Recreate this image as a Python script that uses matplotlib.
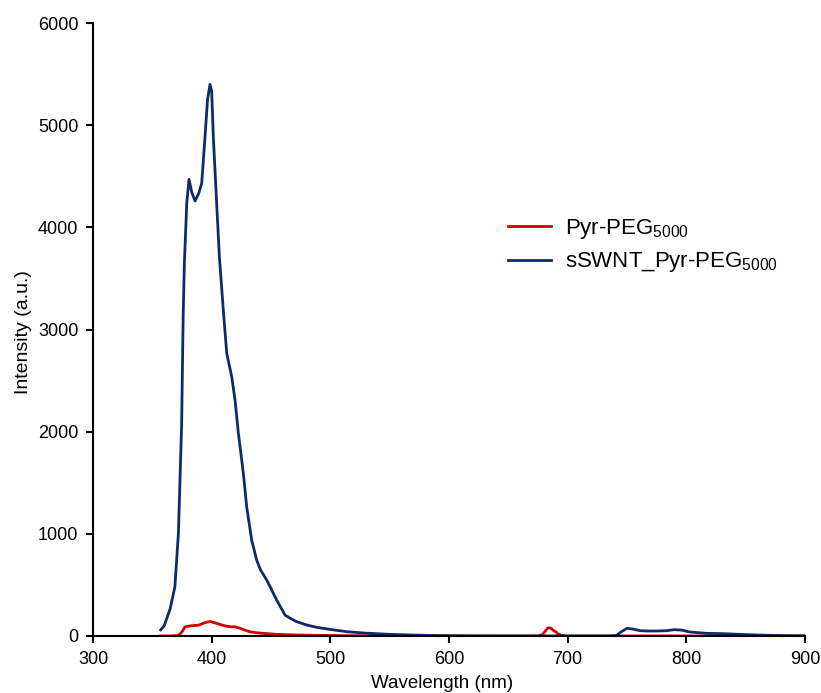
import numpy as np
import matplotlib
matplotlib.use("Agg")
import matplotlib.pyplot as plt

#========= Data ====================================
wl_blue = [357, 360, 365, 369, 372, 374.7, 376, 377, 379, 380.9, 383.2, 386,
           389, 391.6, 394.4, 396.5, 398.6, 400, 401.4, 404.2, 406.5, 409.8,
           412.7, 416.9, 419.7, 422.5, 424.5, 426.7, 429.5, 433.7, 437.9, 441,
           446.4, 454.8, 461.8, 466, 471.6, 480, 488.5, 500, 513.8, 530, 550,
           570, 592, 620, 650, 700, 735, 741, 745, 750, 755, 761, 768, 775,
           783, 790, 796, 803, 817, 831, 845, 859, 880, 900]
int_blue = [60, 100, 266, 480, 1010, 2074, 3138, 3648, 4235, 4470, 4344, 4258,
            4330, 4431, 4887, 5250, 5400, 5330, 4887, 4235, 3712, 3191,
            2767, 2538, 2310, 1984, 1800, 1592, 1266, 940, 744, 650,
            548, 352, 205, 175, 140, 108, 85, 64, 42, 28, 16,
            9, 4, 1, 0, 0, 0, 5, 40, 75, 68, 52, 49, 49,
            52, 62, 58, 39, 26, 23, 16, 10, 4, 2]

wl_red = [357, 365, 372, 375, 377.5, 382, 389, 394.4, 398.6, 404.2, 411.2,
          415.4, 419.7, 424, 428, 432, 437, 443.5, 455, 471.6, 490, 516, 560,
          675, 679, 681, 683, 684.5, 686, 688, 690, 692, 695, 700, 900]
int_red = [0, 0, 5, 40, 89, 99, 106, 131, 142, 124, 99,
           91, 90, 75, 58, 42, 33, 26, 16, 10, 6, 3, 0,
           0, 15, 45, 75, 81, 75, 55, 40, 20, 5, 0, 0]

labels = ['Pyr-PEG$_{5000}$', 'sSWNT_Pyr-PEG$_{5000}$']
x_ticks = [300, 400, 500, 600, 700, 800, 900]
y_ticks = [0, 1000, 2000, 3000, 4000, 5000, 6000]

#========= Style ===========
plt.rcParams['font.family'] = ['Liberation Sans', 'DejaVu Sans']
plt.rcParams['mathtext.fontset'] = 'custom'
plt.rcParams['mathtext.rm'] = 'Liberation Sans'
plt.rcParams['mathtext.it'] = 'Liberation Sans'
plt.rcParams['mathtext.bf'] = 'Liberation Sans'

fig = plt.figure(figsize=(8.21, 6.93), dpi=100)
ax = fig.add_axes([93/821, 57/693, 712/821, 613/693])

ax.plot(wl_red, int_red, color='#d00000', lw=2.0, label=labels[0])
ax.plot(wl_blue, int_blue, color='#0d2b6b', lw=2.0, label=labels[1])

ax.set_xlim(300, 900)
ax.set_ylim(0, 6000)
ax.set_xticks(x_ticks)
ax.set_yticks(y_ticks)
ax.spines['top'].set_visible(False)
ax.spines['right'].set_visible(False)
for s in ['left', 'bottom']:
    ax.spines[s].set_linewidth(1.5)
ax.tick_params(direction='out', length=5, width=1.5, labelsize=13, colors='black', pad=5.5)
ax.set_xlabel('Wavelength (nm)', fontsize=13.5)
ax.set_ylabel('Intensity (a.u.)', fontsize=14)
ax.xaxis.set_label_coords(0.49, -0.064)
ax.yaxis.set_label_coords(-0.086, 0.496)

leg = ax.legend(loc='upper left', bbox_to_anchor=(0.583, 0.684), frameon=False,
                borderpad=0, borderaxespad=0,
                fontsize=16, handlelength=1.95, handletextpad=0.6, labelspacing=0.44)

fig.savefig('out.png', dpi=100)
